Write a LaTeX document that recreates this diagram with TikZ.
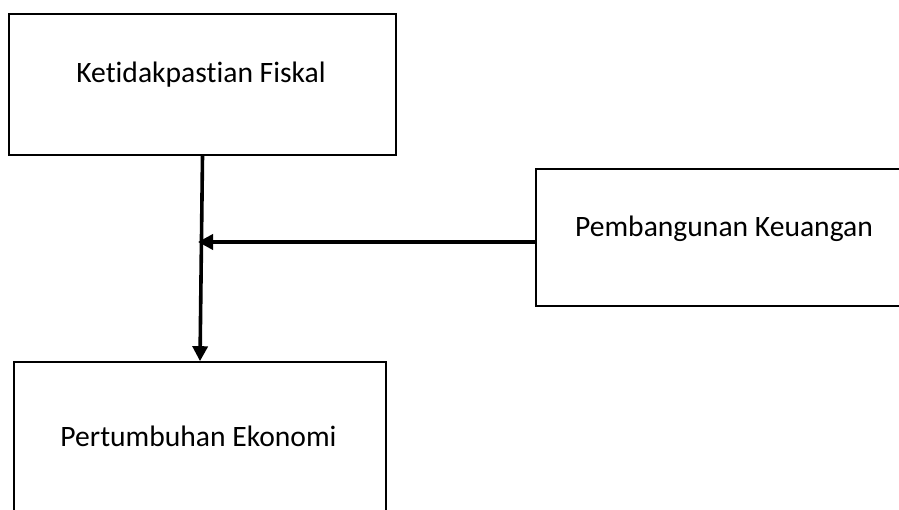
\documentclass[tikz,border=0pt]{standalone}
\usepackage{fontspec}
\setmainfont{Carlito}[Ligatures={NoCommon}]
\usetikzlibrary{arrows.meta}
\begin{document}
\begin{tikzpicture}[x=1pt,y=-1pt,
  box/.style={draw=black,line width=1.6pt,rectangle,inner sep=0pt},
  lbl/.style={anchor=base,inner sep=0pt,font=\fontsize{29.6}{34}\selectfont},
  conn/.style={draw=black,line width=3.6pt,-{Triangle[length=15pt,width=15pt]}}]
\clip (0,0) rectangle (899,510);
\fill[white] (0,0) rectangle (899,510);
\node[box,minimum width=387pt,minimum height=141pt] (fiskal) at (202.5,84.5) {};
\node[box,minimum width=376pt,minimum height=137pt] (keu) at (724,237.5) {};
\node[box,minimum width=372pt,minimum height=170pt] (eko) at (200,447) {};
\node[lbl] (tf) at (201,83) {Ketidakpastian Fiskal};
\node[lbl] (tk) at (724,237) {Pembangunan Keuangan};
\node[lbl] (te) at (198.5,446) {Pertumbuhan Ekonomi};
\coordinate (j) at (198,242);
\draw[conn] (fiskal.south) -- (eko.north);
\draw[conn] (keu.west |- j) -- (j);
\end{tikzpicture}
\end{document}
